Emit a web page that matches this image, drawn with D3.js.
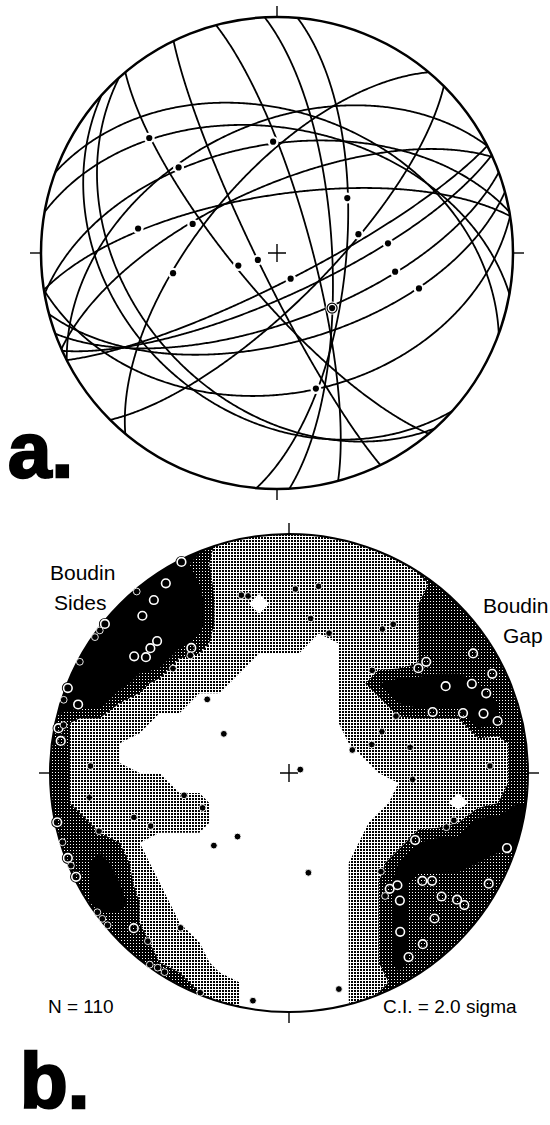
<!DOCTYPE html>
<html>
<head>
<meta charset="utf-8">
<script src="https://cdn.jsdelivr.net/npm/d3@7"></script>
<style>
  html, body { margin: 0; padding: 0; background: #fff; }
  svg { display: block; }
  text { font-family: "Liberation Sans", Arial, Helvetica, sans-serif; fill: #000; }
</style>
</head>
<body>
<svg id="fig" width="550" height="1125"></svg>
<script>
// ---------- (a) great circles of planes and lineations on them ----------
const planeDipDir = [10, 350, 351, 336, 310, 230, 244, 75, 87, 95, 135, 153, 155.5, 160, 165, 171, 222, 228, 20, 333];
const planeDip    = [46, 52, 70, 67, 64, 76, 83, 78, 71, 66, 73, 80, 75, 66, 58.5, 40, 33, 38, 40, 45];
const lineationTrend  = [312, 358, 311, 280, 289, 259, 252, 250, 52, 77, 85, 152, 99, 104, 135, 164];
const lineationPlunge = [28, 51, 44, 40, 59, 53, 76, 83, 59, 61, 51, 80, 48, 38, 63, 40];
const lineationCircled = [false, false, false, false, false, false, false, false,
                          false, false, false, false, false, false, true, false];

// ---------- (b) poles: filled dots and open circles ----------
const dotTrend  = [320, 307, 305, 320, 312, 288, 312, 282, 301, 272, 258, 345, 347, 2, 9, 8, 16, 33, 35, 39,
                   62, 66, 70, 71, 78, 88, 93, 73, 263, 248, 254, 249, 253, 226, 219, 253, 247, 234, 232, 230,
                   215, 220, 216, 214, 212, 202, 189, 167, 106, 109, 137, 142, 169, 298];
const dotPlunge = [1, 1, 1, 36, 35, 1, 52, 4, 64, 18, 53, 24, 25, 24, 22, 35, 39, 29, 25, 44,
                   48, 55, 67, 60, 47, 17, 47, 86, 17, 58, 33, 38, 18, 54, 62, 1, 1, 1, 1, 1,
                   22, 9, 1, 2, 2, 1, 4, 8, 29, 31, 43, 35, 55, 1];
const ringTrend  = [333, 327, 322, 317, 309, 315, 312, 307, 309, 322, 291, 288, 281, 278, 258, 249, 244, 225,
                    51, 51, 57, 64, 61, 64, 68, 67, 71, 73, 76, 118, 109, 129, 127, 139, 136, 139, 129, 127,
                    127, 119, 135, 145, 142, 147];
const ringPlunge = [1, 6, 9, 11, 1, 23, 23, 20, 24, 34, 1, 8, 2, 4, 1, 1, 1, 9,
                    27, 31, 9, 6, 26, 16, 12, 35, 24, 16, 11, 40, 4, 29, 26, 36, 35, 30, 19, 13,
                    9, 5, 15, 20, 10, 9];

// Contoured pole density on a 24 x 24 grid (0 white, 2 light, 4 dense, 6 darkest)
const densityRows = [
  "666666662222222222222222",
  "666666642222222222444444",
  "666666652222222222244444",
  "666666662202222222344444",
  "666666662222222222344444",
  "666666642222201222344444",
  "666666222200001222344444",
  "666642222000001256666544",
  "666322200000001225666654",
  "422220000000001222222654",
  "422100000000000222222224",
  "422100000000000022222224",
  "422222000000000001222224",
  "422222220000000002220235",
  "442222220000000022223665",
  "444310000000000122566666",
  "446420000000000225666544",
  "446521000000000236444444",
  "446632000000000236444444",
  "444432100000000236444444",
  "444442210000000236444444",
  "444443220000000236444444",
  "444444422100000224444444",
  "444444442100000244444444"
];
const contourThresholds = [1, 3, 5];
const contourFills = ["url(#stippleLight)", "url(#stippleDense)", "#000"];

const svg = d3.select("#fig");

// fill patterns for the contour intervals
const defs = svg.append("defs");
const pLight = defs.append("pattern").attr("id", "stippleLight")
  .attr("patternUnits", "userSpaceOnUse").attr("width", 3).attr("height", 3);
pLight.append("rect").attr("width", 3).attr("height", 3).attr("fill", "#fff");
pLight.append("rect").attr("width", 2).attr("height", 2).attr("fill", "#000");
const pDense = defs.append("pattern").attr("id", "stippleDense")
  .attr("patternUnits", "userSpaceOnUse").attr("width", 3).attr("height", 3);
pDense.append("rect").attr("width", 3).attr("height", 3).attr("fill", "#000");
pDense.append("rect").attr("x", 1).attr("y", 1).attr("width", 1).attr("height", 1).attr("fill", "#fff");

// lower-hemisphere equal-area (Schmidt) net centred on the vertical
function schmidtNet(cx, cy, R) {
  return d3.geoAzimuthalEqualArea()
    .rotate([0, -90])
    .scale(R / Math.SQRT2)
    .translate([cx, cy])
    .clipAngle(90)
    .precision(0.2);
}
// trend/plunge -> spherical coordinates used by the projection
const geo = (trend, plunge) => [180 - trend, plunge];

function frame(g, cx, cy, R, width) {
  g.append("circle").attr("cx", cx).attr("cy", cy).attr("r", R)
    .attr("fill", "none").attr("stroke", "#000").attr("stroke-width", width);
  const tick = 11;
  [[0, -1], [1, 0], [0, 1], [-1, 0]].forEach(([dx, dy]) => {
    g.append("line")
      .attr("x1", cx + dx * R).attr("y1", cy + dy * R)
      .attr("x2", cx + dx * (R + tick)).attr("y2", cy + dy * (R + tick))
      .attr("stroke", "#000").attr("stroke-width", 1.4);
  });
  const c = 9;
  g.append("path")
    .attr("d", `M${cx - c},${cy}H${cx + c}M${cx},${cy - c}V${cy + c}`)
    .attr("stroke", "#000").attr("stroke-width", 1.4).attr("fill", "none");
}

const panelLabel = (x, y, s) => svg.append("text").attr("x", x).attr("y", y)
  .attr("font-size", 78).attr("font-weight", 700)
  .attr("stroke", "#000").attr("stroke-width", 2.5).text(s);

// ---------------- net (a) ----------------
{
  const cx = 277, cy = 253, R = 236;
  const proj = schmidtNet(cx, cy, R);
  const path = d3.geoPath(proj);
  const g = svg.append("g");

  const planes = planeDipDir.map((dd, i) => {
    const ring = d3.geoCircle().center(geo(dd + 180, 90 - planeDip[i])).radius(90).precision(0.5)().coordinates[0];
    return { type: "LineString", coordinates: ring };
  });
  g.selectAll("path.gc").data(planes).join("path").attr("class", "gc")
    .attr("d", path).attr("fill", "none").attr("stroke", "#000")
    .attr("stroke-width", 1.8).attr("stroke-linejoin", "round");

  const lin = lineationTrend.map((t, i) => ({ p: proj(geo(t, lineationPlunge[i])), ring: lineationCircled[i] }));
  g.selectAll("circle.halo").data(lin).join("circle").attr("class", "halo")
    .attr("cx", d => d.p[0]).attr("cy", d => d.p[1]).attr("r", d => d.ring ? 6.5 : 5.5).attr("fill", "#fff");
  g.selectAll("circle.lring").data(lin.filter(d => d.ring)).join("circle").attr("class", "lring")
    .attr("cx", d => d.p[0]).attr("cy", d => d.p[1]).attr("r", 5)
    .attr("fill", "#fff").attr("stroke", "#000").attr("stroke-width", 1.2);
  g.selectAll("circle.lin").data(lin).join("circle").attr("class", "lin")
    .attr("cx", d => d.p[0]).attr("cy", d => d.p[1]).attr("r", 3.1).attr("fill", "#000");

  frame(g, cx, cy, R, 2.5);
  panelLabel(8, 477, "a.");
}

// ---------------- net (b) ----------------
{
  const cx = 289, cy = 773, R = 239;
  const proj = schmidtNet(cx, cy, R);
  const g = svg.append("g");

  defs.append("clipPath").attr("id", "netClip")
    .append("circle").attr("cx", cx).attr("cy", cy).attr("r", R);

  const n = densityRows.length;
  const values = densityRows.join("").split("").map(Number);
  const bands = d3.contours().size([n, n]).thresholds(contourThresholds)(values);
  const grid = d3.geoPath(d3.geoIdentity().scale(2 * R / n).translate([cx - R, cy - R]));
  g.append("g").attr("clip-path", "url(#netClip)")
    .selectAll("path").data(bands).join("path")
    .attr("d", grid).attr("fill", (d, i) => contourFills[i]);

  frame(g, cx, cy, R, 2);

  const rings = ringTrend.map((t, i) => proj(geo(t, ringPlunge[i])));
  g.selectAll("circle.ringK").data(rings).join("circle").attr("class", "ringK")
    .attr("cx", d => d[0]).attr("cy", d => d[1]).attr("r", 4.3)
    .attr("fill", "none").attr("stroke", "#000").attr("stroke-width", 3.4);
  g.selectAll("circle.ringW").data(rings).join("circle").attr("class", "ringW")
    .attr("cx", d => d[0]).attr("cy", d => d[1]).attr("r", 4.3)
    .attr("fill", "none").attr("stroke", "#fff").attr("stroke-width", 1.6);

  const dots = dotTrend.map((t, i) => proj(geo(t, dotPlunge[i])));
  g.selectAll("circle.dot").data(dots).join("circle").attr("class", "dot")
    .attr("cx", d => d[0]).attr("cy", d => d[1]).attr("r", 3.4)
    .attr("fill", "#000").attr("stroke", "#fff").attr("stroke-width", 0.9);

  const lab = (x, y, s, size) => svg.append("text").attr("x", x).attr("y", y)
    .attr("font-size", size || 21).text(s);
  lab(50, 580, "Boudin");
  lab(54, 610, "Sides");
  lab(483, 613, "Boudin");
  lab(503, 643, "Gap");
  lab(48, 1013, "N = 110", 19);
  lab(383, 1013, "C.I. = 2.0 sigma", 19);

  panelLabel(20, 1108, "b.");
}
</script>
</body>
</html>
